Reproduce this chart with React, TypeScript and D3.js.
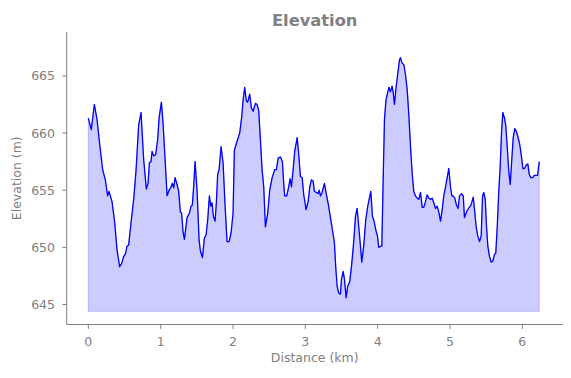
import React from "react";
import * as d3 from "d3";

const distanceKm: number[] = [
  0.000, 0.041, 0.083, 0.120, 0.156, 0.198, 0.235, 0.267, 0.286, 0.328,
  0.364, 0.397, 0.433, 0.461, 0.488, 0.512, 0.535, 0.557, 0.591, 0.627,
  0.660, 0.696, 0.729, 0.765, 0.802, 0.826, 0.844, 0.867, 0.881, 0.903,
  0.931, 0.958, 0.978, 1.010, 1.033, 1.061, 1.089, 1.116, 1.138, 1.162,
  1.180, 1.199, 1.227, 1.249, 1.272, 1.290, 1.310, 1.328, 1.365, 1.397,
  1.420, 1.438, 1.456, 1.476, 1.503, 1.531, 1.549, 1.577, 1.604, 1.628,
  1.650, 1.674, 1.692, 1.711, 1.729, 1.752, 1.770, 1.788, 1.808, 1.835,
  1.863, 1.891, 1.918, 1.946, 1.974, 2.001, 2.019, 2.057, 2.093, 2.120,
  2.140, 2.162, 2.185, 2.203, 2.231, 2.254, 2.278, 2.310, 2.333, 2.355,
  2.379, 2.402, 2.425, 2.448, 2.480, 2.508, 2.541, 2.577, 2.600, 2.624,
  2.656, 2.683, 2.701, 2.715, 2.743, 2.770, 2.790, 2.808, 2.831, 2.853,
  2.887, 2.909, 2.932, 2.956, 2.978, 3.011, 3.039, 3.061, 3.084, 3.108,
  3.126, 3.154, 3.177, 3.191, 3.209, 3.232, 3.264, 3.292, 3.320, 3.347,
  3.375, 3.402, 3.420, 3.440, 3.462, 3.485, 3.499, 3.523, 3.541, 3.564,
  3.586, 3.614, 3.642, 3.669, 3.693, 3.716, 3.739, 3.762, 3.780, 3.808,
  3.835, 3.863, 3.882, 3.905, 3.928, 3.946, 3.979, 3.997, 4.015, 4.039,
  4.057, 4.076, 4.094, 4.115, 4.136, 4.156, 4.177, 4.200, 4.214, 4.232,
  4.256, 4.278, 4.302, 4.315, 4.339, 4.361, 4.385, 4.408, 4.430, 4.454,
  4.477, 4.499, 4.523, 4.546, 4.568, 4.592, 4.616, 4.637, 4.661, 4.684,
  4.707, 4.730, 4.754, 4.776, 4.799, 4.823, 4.845, 4.869, 4.892, 4.914,
  4.938, 4.961, 4.983, 5.007, 5.025, 5.044, 5.066, 5.090, 5.113, 5.131,
  5.159, 5.183, 5.200, 5.228, 5.256, 5.290, 5.321, 5.339, 5.362, 5.384,
  5.408, 5.431, 5.450, 5.467, 5.487, 5.505, 5.523, 5.546, 5.570, 5.592,
  5.616, 5.633, 5.653, 5.675, 5.694, 5.712, 5.730, 5.754, 5.772, 5.791,
  5.813, 5.833, 5.855, 5.874, 5.896, 5.920, 5.938, 5.961, 5.979, 5.993,
  6.007, 6.030, 6.054, 6.076, 6.095, 6.118, 6.141, 6.165, 6.187, 6.210,
  6.234,
];

const elevationM: number[] = [
  661.3, 660.3, 662.5, 661.2, 659.1, 656.8, 655.9, 654.5, 654.9, 654.0,
  652.2, 649.8, 648.3, 648.6, 649.2, 649.4, 650.1, 650.2, 652.2, 654.2,
  656.8, 660.7, 661.8, 657.7, 655.1, 655.6, 657.4, 657.5, 658.4, 658.0,
  658.1, 659.4, 661.3, 662.7, 660.9, 657.7, 654.5, 655.0, 655.2, 655.6,
  655.2, 656.1, 655.5, 654.9, 653.1, 653.0, 651.3, 650.7, 652.6, 653.0,
  653.6, 653.7, 655.3, 657.5, 655.0, 650.7, 649.7, 649.1, 650.8, 651.1,
  652.4, 654.5, 653.6, 653.9, 652.7, 652.3, 653.9, 656.4, 656.8, 658.8,
  657.4, 653.6, 650.5, 650.5, 651.3, 653.0, 658.5, 659.3, 660.0, 661.4,
  662.9, 664.0, 662.8, 662.7, 663.4, 662.2, 661.9, 662.6, 662.5, 662.0,
  659.4, 656.8, 655.3, 651.8, 653.0, 655.0, 656.1, 656.8, 656.8, 657.8,
  657.9, 657.5, 655.6, 654.5, 654.5, 655.3, 656.0, 655.3, 656.8, 658.4,
  659.6, 658.1, 656.2, 656.1, 654.6, 653.3, 654.0, 655.3, 655.9, 655.8,
  654.9, 654.8, 654.7, 655.0, 654.5, 654.8, 655.6, 654.6, 653.7, 652.6,
  651.5, 650.4, 648.3, 646.6, 646.0, 645.9, 647.2, 647.9, 647.2, 645.6,
  646.6, 647.0, 648.6, 650.5, 652.7, 653.4, 651.8, 650.1, 648.7, 650.2,
  652.4, 653.6, 654.2, 654.9, 652.7, 652.4, 651.4, 651.0, 650.0, 650.1,
  650.1, 655.9, 661.2, 662.9, 663.5, 664.0, 663.6, 664.1, 663.6, 662.5,
  664.1, 665.2, 666.4, 666.6, 666.1, 666.0, 665.1, 663.8, 661.7, 658.8,
  656.5, 654.9, 654.5, 654.3, 654.2, 654.8, 653.5, 653.5, 654.0, 654.6,
  654.3, 654.2, 654.3, 653.9, 653.4, 653.6, 653.1, 652.3, 653.3, 654.5,
  655.3, 656.1, 656.9, 655.3, 654.5, 654.5, 654.3, 653.7, 653.4, 654.5,
  654.7, 654.5, 652.6, 653.1, 653.4, 653.7, 654.4, 653.3, 651.8, 651.0,
  650.5, 651.0, 654.5, 654.8, 654.2, 651.8, 650.1, 649.2, 648.7, 648.8,
  649.4, 649.5, 651.8, 655.0, 657.1, 660.0, 661.8, 661.3, 660.6, 658.8,
  656.6, 655.5, 657.8, 659.6, 660.4, 660.1, 659.7, 659.1, 658.4, 657.7,
  656.9, 656.9, 657.2, 657.3, 656.4, 656.1, 656.1, 656.3, 656.3, 656.3,
  657.5,
];

const xTicks: number[] = [0, 1, 2, 3, 4, 5, 6];
const yTicks: number[] = [645, 650, 655, 660, 665];
const fillBase = 644.4;
const titleText = "Elevation";
const xLabel = "Distance (km)";
const yLabel = "Elevation (m)";

const W = 571;
const H = 378;
const LEFT = 66.7;
const RIGHT = 562.7;
const TOP = 32;
const BOTTOM = 324.5;
const GRAY = "#808080";
const FONT = "'DejaVu Sans', sans-serif";

export default function App() {
  const x = d3.scaleLinear().domain([-0.299, 6.558]).range([LEFT, RIGHT]);
  const y = d3.scaleLinear().domain([643.25, 668.84]).range([BOTTOM, TOP]);
  const pts: [number, number][] = distanceKm.map((d, i) => [d, elevationM[i]]);

  const line = d3
    .line<[number, number]>()
    .x((d) => x(d[0]))
    .y((d) => y(d[1]));
  const area = d3
    .area<[number, number]>()
    .x((d) => x(d[0]))
    .y0(() => y(fillBase))
    .y1((d) => y(d[1]));

  return (
    <svg
      width={W}
      height={H}
      style={{ position: "absolute", left: 0, top: 0, background: "#fff" }}
      fontFamily={FONT}
    >
      <path
        d={area(pts) || ""}
        fill="rgba(0,0,255,0.2)"
        stroke="rgba(0,0,255,0.2)"
        strokeWidth={1}
      />
      <path d={line(pts) || ""} fill="none" stroke="#0000ff" strokeWidth={1.3} strokeLinejoin="round" />

      {/* spines */}
      <line x1={LEFT} x2={LEFT} y1={TOP} y2={BOTTOM} stroke={GRAY} strokeWidth={1} />
      <line x1={LEFT} x2={RIGHT} y1={BOTTOM} y2={BOTTOM} stroke={GRAY} strokeWidth={1} />

      {xTicks.map((t) => (
        <g key={"x" + t}>
          <line x1={x(t)} x2={x(t)} y1={BOTTOM} y2={BOTTOM + 4.4} stroke={GRAY} strokeWidth={1} />
          <text x={x(t)} y={346} textAnchor="middle" fontSize={12.5} fill={GRAY}>
            {t}
          </text>
        </g>
      ))}
      {yTicks.map((t) => (
        <g key={"y" + t}>
          <line x1={LEFT - 4.4} x2={LEFT} y1={y(t)} y2={y(t)} stroke={GRAY} strokeWidth={1} />
          <text x={55} y={y(t) + 4.5} textAnchor="end" fontSize={12.5} fill={GRAY}>
            {t}
          </text>
        </g>
      ))}

      <text x={(LEFT + RIGHT) / 2} y={362} textAnchor="middle" fontSize={12.5} fill={GRAY}>
        {xLabel}
      </text>
      <text
        transform={`translate(20.5, ${(TOP + BOTTOM) / 2}) rotate(-90)`}
        textAnchor="middle"
        fontSize={12.5}
        fill={GRAY}
      >
        {yLabel}
      </text>
      <text x={(LEFT + RIGHT) / 2} y={26} textAnchor="middle" fontSize={16.3} fontWeight="bold" fill={GRAY}>
        {titleText}
      </text>
    </svg>
  );
}
